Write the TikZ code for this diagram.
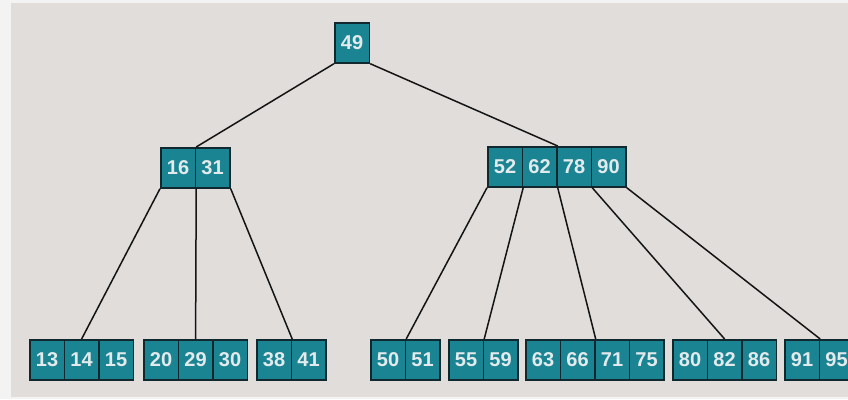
\documentclass[tikz,border=0pt]{standalone}
\usepackage{fontspec}
\setmainfont{Liberation Sans}
\definecolor{bg}{HTML}{E0DDDB}
\definecolor{margin}{HTML}{F4F3F3}
\definecolor{keyfill}{HTML}{1B8493}
\definecolor{keyedge}{HTML}{12282F}
\definecolor{keytext}{HTML}{E2EAEC}
% one row of key cells: left x, top y, list of keys
\newcommand\keyrow[3]{%
  \foreach \k [count=\i from 0] in {#3} {%
    \node[cell] (k\k) at ({#1+34.5*\i},#2) {\k};}}
\begin{document}
\begin{tikzpicture}[x=1pt,y=-1pt,
  cell/.style={draw=keyedge, line width=1.7pt, fill=keyfill, text=keytext,
    font=\fontsize{20}{20}\selectfont\bfseries, minimum width=34.5pt,
    minimum height=40pt, inner sep=0pt, anchor=north west},
  link/.style={draw=black!92, line width=1.5pt}]
\useasboundingbox (0,0) rectangle (848,399);
\fill[margin] (0,0) rectangle (848,399);
\fill[bg] (11,3) rectangle (848,397);

% root
\keyrow{334}{22}{49}
% inner level
\keyrow{160}{147}{16,31}
\keyrow{487}{146}{52,62,78,90}
% leaves
\keyrow{29}{339}{13,14,15}
\keyrow{143}{339}{20,29,30}
\keyrow{256}{339}{38,41}
\keyrow{370}{339}{50,51}
\keyrow{448}{339}{55,59}
\keyrow{525}{339}{63,66,71,75}
\keyrow{672}{339}{80,82,86}
\keyrow{784}{339}{91,95}

% child pointers
\draw[link] (k49.south west) -- (k16.north east);
\draw[link] (k49.south east) -- (k62.north east);
\draw[link] (k16.south west) -- (k14.north);
\draw[link] (k16.south east) -- (k29.north);
\draw[link] (k31.south east) -- (k38.north east);
\draw[link] (k52.south west) -- (k50.north east);
\draw[link] (k52.south east) -- (k55.north east);
\draw[link] (k62.south east) -- (k66.north east);
\draw[link] (k78.south east) -- (k82.north);
\draw[link] (k90.south east) -- (k91.north east);
\end{tikzpicture}
\end{document}
